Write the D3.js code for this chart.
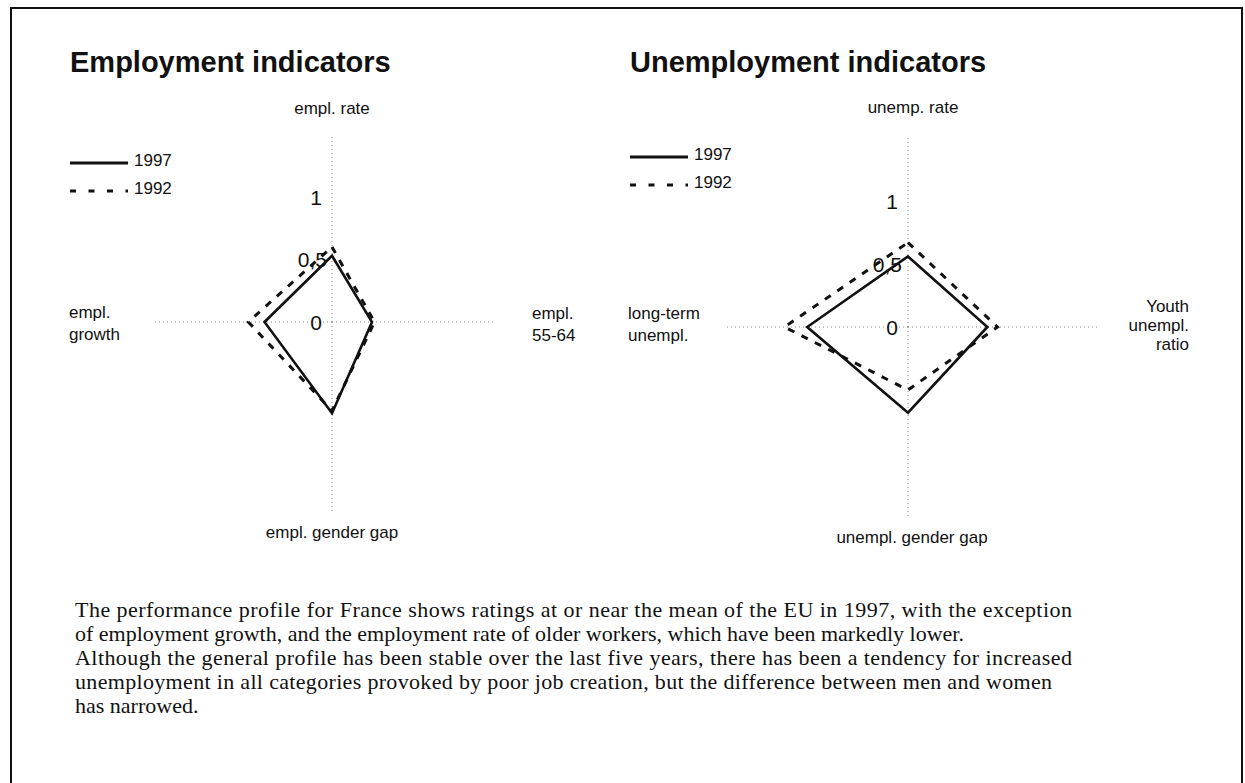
<!DOCTYPE html>
<html><head><meta charset="utf-8">
<script src="https://cdn.jsdelivr.net/npm/d3@7"></script>
<style>
html,body{margin:0;padding:0;background:#fff;}
svg text{font-family:"Liberation Sans",Arial,sans-serif;fill:#111;}
</style></head>
<body>
<svg id="chart" width="1245" height="783"></svg>
<script>
// ---- data ----
const emplAxes = ["empl. rate", "empl. 55-64", "empl. gender gap", "empl. growth"];
const empl1997 = [0.53, 0.32, 0.73, 0.54];
const empl1992 = [0.60, 0.34, 0.71, 0.67];

const unempAxes = ["unemp. rate", "Youth unempl. ratio", "unempl. gender gap", "long-term unempl."];
const unemp1997 = [0.56, 0.63, 0.68, 0.80];
const unemp1992 = [0.67, 0.71, 0.50, 0.98];

const tickValues = [0, 0.5, 1];
const tickLabels = ["0", "0,5", "1"];
const seriesNames = ["1997", "1992"];

const paragraph = [
  "The performance profile for France shows ratings at or near the mean of the EU in 1997, with the exception",
  "of employment growth, and the employment rate of older workers, which have been markedly lower.",
  "Although the general profile has been stable over the last five years, there has been a tendency for increased",
  "unemployment in all categories provoked by poor job creation, but the difference between men and women",
  "has narrowed."
];

// ---- drawing ----
const svg = d3.select("#chart");

// frame
svg.append("path")
  .attr("d", "M11,790 L11,8 L1242,8 L1242,790")
  .attr("fill", "none").attr("stroke", "#111").attr("stroke-width", 2);

function radar(cfg) {
  const g = svg.append("g").attr("transform", `translate(${cfg.cx},${cfg.cy})`);
  const r = d3.scaleLinear().domain([0, 1]).range([0, cfg.radius]);
  const angle = d3.scalePoint().domain(d3.range(cfg.axes.length)).range([0, 2 * Math.PI * (cfg.axes.length - 1) / cfg.axes.length]);

  // axes (dotted)
  cfg.axes.forEach((a, i) => {
    const ang = angle(i) - Math.PI / 2;
    const ext = cfg.axisExt[i];
    g.append("line")
      .attr("x1", 0).attr("y1", 0)
      .attr("x2", r(ext) * Math.cos(ang)).attr("y2", r(ext) * Math.sin(ang))
      .attr("stroke", "#8a8a8a").attr("stroke-width", 1).attr("stroke-dasharray", "1,3");
  });

  // tick labels along the vertical axis
  tickValues.forEach((v, i) => {
    g.append("text")
      .attr("x", cfg.tickDx[i]).attr("y", -r(v))
      .attr("dy", "0.36em")
      .attr("text-anchor", "end")
      .style("font-size", "21px")
      .text(tickLabels[i]);
  });

  const line = d3.lineRadial()
    .angle((d, i) => angle(i))
    .radius(d => r(d))
    .curve(d3.curveLinearClosed);

  g.append("path").datum(cfg.s1992).attr("d", line)
    .attr("fill", "none").attr("stroke", "#111").attr("stroke-width", 3)
    .attr("stroke-dasharray", "7,8");
  g.append("path").datum(cfg.s1997).attr("d", line)
    .attr("fill", "none").attr("stroke", "#111").attr("stroke-width", 2.6)
    .attr("stroke-linejoin", "miter");

  // title
  svg.append("text").attr("x", cfg.titleX).attr("y", 72)
    .style("font-size", "29px").style("font-weight", "bold").text(cfg.title);

  // legend
  const lg = svg.append("g").attr("transform", `translate(${cfg.legX},${cfg.legY})`);
  [0, 1].forEach(k => {
    lg.append("line").attr("x1", 0).attr("x2", 58).attr("y1", k * 28 + 3).attr("y2", k * 28 + 3)
      .attr("stroke", "#111").attr("stroke-width", k === 0 ? 3 : 3.2)
      .attr("stroke-dasharray", k === 0 ? null : "6,12.5");
    lg.append("text").attr("x", 64).attr("y", k * 28).attr("dy", "0.36em")
      .style("font-size", "17px").text(seriesNames[k]);
  });

  // axis labels
  cfg.labels.forEach(l => {
    const t = svg.append("text").attr("x", l.x).attr("text-anchor", l.anchor).style("font-size", "17px");
    l.lines.forEach((s, j) => {
      t.append("tspan").attr("x", l.x).attr("y", l.y + j * l.lh).text(s);
    });
  });
}

radar({
  cx: 332, cy: 322, radius: 125, axes: emplAxes, s1997: empl1997, s1992: empl1992,
  axisExt: [1.5, 1.3, 1.52, 1.44], tickDx: [-10, -5, -10],
  title: "Employment indicators", titleX: 70, legX: 70, legY: 160,
  labels: [
    {x: 332, y: 114, anchor: "middle", lines: ["empl. rate"], lh: 0},
    {x: 332, y: 538, anchor: "middle", lines: ["empl. gender gap"], lh: 0},
    {x: 69, y: 318, anchor: "start", lines: ["empl.", "growth"], lh: 22},
    {x: 532, y: 319, anchor: "start", lines: ["empl.", "55-64"], lh: 22}
  ]
});

radar({
  cx: 908, cy: 327, radius: 126, axes: unempAxes, s1997: unemp1997, s1992: unemp1992,
  axisExt: [1.5, 1.5, 1.5, 1.44], tickDx: [-10, -6, -10],
  title: "Unemployment indicators", titleX: 630, legX: 630, legY: 154,
  labels: [
    {x: 913, y: 113, anchor: "middle", lines: ["unemp. rate"], lh: 0},
    {x: 912, y: 543, anchor: "middle", lines: ["unempl. gender gap"], lh: 0},
    {x: 628, y: 319, anchor: "start", lines: ["long-term", "unempl."], lh: 22},
    {x: 1189, y: 312, anchor: "end", lines: ["Youth", "unempl.", "ratio"], lh: 19}
  ]
});

// paragraph (lines 1, 3, 4 stretched to the measured right edge)
const lineEnds = [1072, null, 1072, 1052, null];
paragraph.forEach((s, i) => {
  const t = svg.append("text").attr("x", 75).attr("y", 617 + i * 24)
    .style("font-family", "'Liberation Serif','Times New Roman',serif")
    .style("font-size", "22px")
    .text(s);
  if (lineEnds[i]) t.attr("textLength", lineEnds[i] - 75).attr("lengthAdjust", "spacing");
});
</script>
</body></html>
